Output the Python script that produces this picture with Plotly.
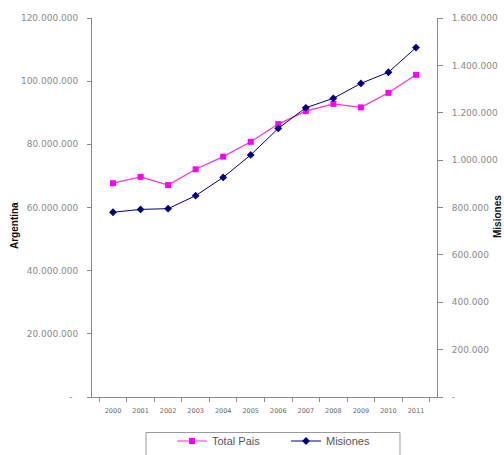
import plotly.graph_objects as go

years = ["2000", "2001", "2002", "2003", "2004", "2005", "2006", "2007", "2008", "2009", "2010", "2011"]
total_pais = [67.7e6, 69.7e6, 67.1e6, 72.1e6, 76.1e6, 80.8e6, 86.4e6, 90.5e6, 92.8e6, 91.7e6, 96.3e6, 102.0e6]
misiones = [780000, 792000, 795000, 850000, 927000, 1022000, 1134000, 1221000, 1261000, 1324000, 1371000, 1475000]

left_ticks = [0, 20e6, 40e6, 60e6, 80e6, 100e6, 120e6]
right_ticks = [0, 200000, 400000, 600000, 800000, 1000000, 1200000, 1400000, 1600000]


def fmt(v, left=True):
    if v == 0:
        return "-\u00a0\u00a0" if left else "-"
    return f"{int(v):,}".replace(",", ".")


W, H = 504, 455
L, R, T, B = 92, 437, 18, 397


def px_x(x):
    return (x - L) / (R - L)


def px_y(y):
    return (B - y) / (B - T)


def cx(x):
    return x / W


def cy(y):
    return 1 - y / H


fig = go.Figure()
fig.add_trace(go.Scatter(
    x=years, y=total_pais, name="Total Pais", mode="lines+markers",
    line=dict(color="#FF33CC", width=1.2),
    marker=dict(symbol="square", size=6, color="#FF00FF"),
    yaxis="y",
))
fig.add_trace(go.Scatter(
    x=years, y=misiones, name="Misiones", mode="lines+markers",
    line=dict(color="#000080", width=1),
    marker=dict(symbol="diamond", size=6, color="#000080"),
    yaxis="y2",
))

ytickfont = dict(family="DejaVu Sans, sans-serif", size=9, color="#8a8a8a")
xtickfont = dict(family="DejaVu Sans, sans-serif", size=6.5, color="#666666")
titlefont = dict(family="Arial, Liberation Sans, sans-serif", size=10, color="#111111")

fig.update_layout(
    width=W, height=H,
    margin=dict(l=L, r=W - R, t=T, b=H - B),
    paper_bgcolor="white", plot_bgcolor="white",
    showlegend=True,
    legend=dict(
        orientation="h", xref="container", yref="container",
        x=cx(172), xanchor="left", y=cy(441), yanchor="middle",
        borderwidth=0, bgcolor="rgba(0,0,0,0)",
        font=dict(family="Arial, Liberation Sans, sans-serif", size=11, color="#555555"),
        entrywidth=69, itemwidth=30,
    ),
    xaxis=dict(
        type="category", showgrid=False, showline=True, linecolor="#888888", linewidth=1,
        ticks="outside", ticklen=4, tickcolor="#888888", tickson="boundaries",
        tickfont=xtickfont, zeroline=False, ticklabelstandoff=7,
    ),
    yaxis=dict(
        range=[0, 120e6], tickvals=left_ticks, ticktext=[fmt(v) for v in left_ticks],
        showgrid=False, showline=True, linecolor="#888888", linewidth=1,
        ticks="outside", ticklen=4, tickcolor="#888888", tickfont=ytickfont, zeroline=False,
        automargin=False, ticklabelstandoff=7,
    ),
    yaxis2=dict(
        range=[0, 1.6e6], tickvals=right_ticks, ticktext=[fmt(v, False) for v in right_ticks],
        overlaying="y", side="right",
        showgrid=False, showline=True, linecolor="#888888", linewidth=1,
        ticks="outside", ticklen=5, tickcolor="#888888", tickfont=ytickfont, zeroline=False,
        automargin=False, ticklabelstandoff=7,
    ),
    annotations=[
        dict(text="<b>Argentina</b>", textangle=-90, xref="paper", yref="paper",
             x=px_x(14), y=px_y(226), showarrow=False, font=titlefont,
             xanchor="center", yanchor="middle"),
        dict(text="<b>Misiones</b>", textangle=-90, xref="paper", yref="paper",
             x=px_x(497), y=px_y(217), showarrow=False, font=titlefont,
             xanchor="center", yanchor="middle"),
    ],
    shapes=[
        dict(type="rect", xref="paper", yref="paper",
             x0=px_x(146), x1=px_x(400), y0=px_y(470), y1=px_y(432.5),
             line=dict(color="#9a9a9a", width=1), fillcolor="rgba(0,0,0,0)", layer="below"),
    ],
)

fig.write_html(
    "out.html",
    config={"displayModeBar": False},
    post_script="document.body.style.margin='0px';document.body.style.overflow='hidden';",
)
